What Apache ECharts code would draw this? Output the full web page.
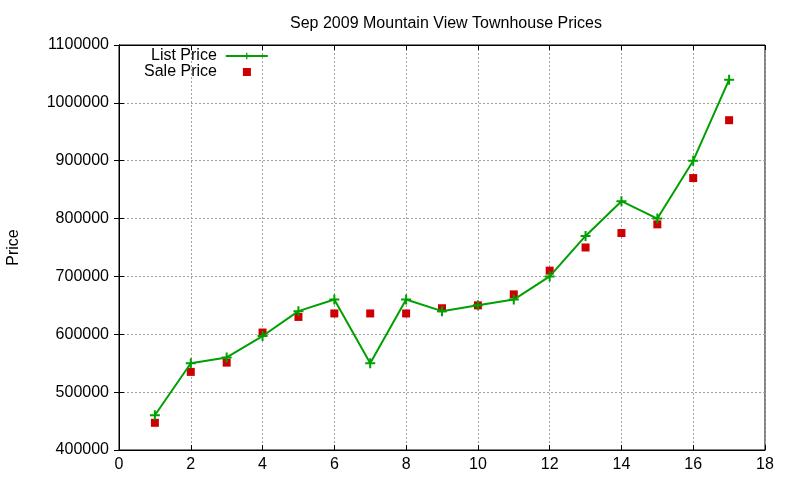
<!DOCTYPE html>
<html>
<head>
<meta charset="utf-8">
<script src="https://cdn.jsdelivr.net/npm/echarts@6/dist/echarts.min.js"></script>
<style>
  html, body { margin: 0; padding: 0; background: #fff; }
  #chart { width: 800px; height: 480px; }
</style>
</head>
<body>
<div id="chart"></div>
<script>
// data
var months = [1, 2, 3, 4, 5, 6, 7, 8, 9, 10, 11, 12, 13, 14, 15, 16, 17]
var listPrice = [460000, 550000, 560000, 597000, 640000, 660000, 550000, 660000, 640000, 650000, 660000, 700000, 770000, 830000, 800000, 900000, 1040000]
var salePrice = [447000, 535000, 551000, 603000, 630000, 636000, 636000, 636000, 645000, 650000, 669000, 710000, 750000, 775000, 790000, 870000, 970000]
var xTicks = { min: 0, max: 18, interval: 2 }
var yTicks = { min: 400000, max: 1100000, interval: 100000 }

var font = 'Liberation Sans, Arial, sans-serif'
var plus = 'path://M4,0H6V4H10V6H6V10H4V6H0V4H4Z'

function pairs(ys) {
  return months.map(function(m, i) { return [m, ys[i]] })
}

var tickStyle = { show: true, inside: true, length: 5, lineStyle: { color: '#000', width: 1 } }
var gridLine = { show: true, lineStyle: { color: '#a0a0a0', width: 1, type: [2, 2] } }
var legendText = { fontFamily: font, fontSize: 16, color: '#000', lineHeight: 16 }

var option = {
  animation: false,
  backgroundColor: '#fff',
  textStyle: { fontFamily: font },
  title: {
    text: 'Sep 2009 Mountain View Townhouse Prices',
    left: 441,
    textAlign: 'center',
    top: 11,
    textStyle: { fontFamily: font, fontSize: 16, fontWeight: 'normal', color: '#000' }
  },
  legend: [
    {
      align: 'right',
      left: 151,
      top: 48,
      padding: 0,
      itemWidth: 42,
      itemHeight: 8,
      textStyle: Object.assign({ padding: [0, 4, 0, 0] }, legendText),
      data: ['List Price']
    },
    {
      align: 'right',
      left: 144,
      top: 64,
      padding: 0,
      itemWidth: 8,
      itemHeight: 8,
      textStyle: Object.assign({ padding: [0, 21, 0, 0] }, legendText),
      data: ['Sale Price']
    }
  ],
  grid: {
    left: 119,
    right: 35,
    top: 45,
    bottom: 30,
    outerBoundsMode: 'none',
    containLabel: false,
    show: true,
    borderColor: '#000',
    borderWidth: 1
  },
  xAxis: [
    {
      type: 'value',
      min: xTicks.min,
      max: xTicks.max,
      interval: xTicks.interval,
      axisLine: { show: true, lineStyle: { color: '#000', width: 1 } },
      axisTick: tickStyle,
      axisLabel: { margin: 7, fontFamily: font, fontSize: 16, color: '#000' },
      splitLine: gridLine
    },
    {
      type: 'value',
      position: 'top',
      min: xTicks.min,
      max: xTicks.max,
      interval: xTicks.interval,
      axisLine: { show: true, lineStyle: { color: '#000', width: 1 } },
      axisTick: tickStyle,
      axisLabel: { show: false },
      splitLine: { show: false }
    }
  ],
  yAxis: [
    {
      type: 'value',
      name: 'Price',
      nameLocation: 'middle',
      nameGap: 97,
      nameTextStyle: { fontFamily: font, fontSize: 16, color: '#000' },
      min: yTicks.min,
      max: yTicks.max,
      interval: yTicks.interval,
      axisLine: { show: true, lineStyle: { color: '#000', width: 1 } },
      axisTick: tickStyle,
      axisLabel: {
        margin: 10,
        fontFamily: font,
        fontSize: 16,
        color: '#000',
        formatter: function(v) {
          return String(v)
        }
      },
      splitLine: gridLine
    },
    {
      type: 'value',
      position: 'right',
      min: yTicks.min,
      max: yTicks.max,
      interval: yTicks.interval,
      axisLine: { show: true, lineStyle: { color: '#000', width: 1 } },
      axisTick: tickStyle,
      axisLabel: { show: false },
      splitLine: { show: false }
    }
  ],
  series: [
    {
      name: 'List Price',
      type: 'line',
      data: pairs(listPrice),
      symbol: plus,
      symbolSize: 10,
      showAllSymbol: true,
      itemStyle: { color: '#00a000', opacity: 1 },
      lineStyle: { color: '#00a000', width: 2 },
      z: 3
    },
    {
      name: 'Sale Price',
      type: 'scatter',
      data: pairs(salePrice),
      symbol: 'rect',
      symbolSize: 8,
      itemStyle: { color: '#cc0000', opacity: 1 },
      z: 2
    }
  ]
}

var myChart = echarts.init(document.getElementById('chart'))
myChart.setOption(option)
</script>
</body>
</html>
